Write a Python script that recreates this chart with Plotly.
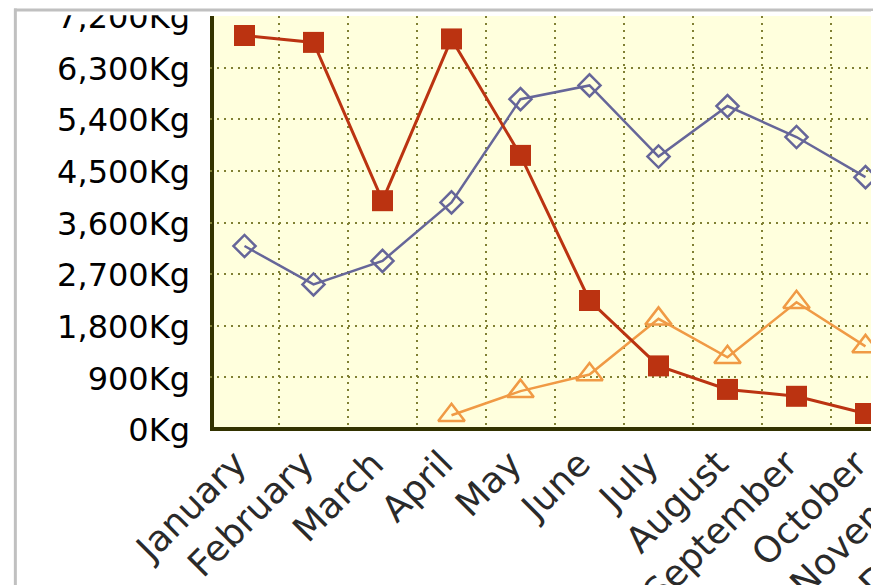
import plotly.graph_objects as go

# Monthly weights (Kg); only January-October are in view.
MONTHS = ["January", "February", "March", "April", "May", "June",
          "July", "August", "September", "October", "November", "December"]

RED_MONTHS = MONTHS[:10]
RED_KG = [6860, 6740, 3980, 6800, 4770, 2240, 1100, 690, 570, 270]

BLUE_MONTHS = MONTHS[:10]
BLUE_KG = [3190, 2520, 2930, 3950, 5750, 5990, 4750, 5630, 5090, 4390]

ORANGE_MONTHS = MONTHS[3:10]
ORANGE_KG = [240, 660, 950, 1920, 1250, 2210, 1440]

Y_MAX = 7200
Y_STEP = 900

FONT = "DejaVu Sans"
RED = "#bb3311"
BLUE = "#666699"
ORANGE = "#f09a45"
GRID = "#808033"
AXIS = "#333300"
BORDER = "#c0c0c0"

# figure sits in the page body (8px margin); plot area in figure pixels,
# the chart is shown cut off on the right by its window
W, H = 873, 577
L, R, T, B = 202, 863, 7.7, 420.6
X_RANGE = [-0.5, -0.5 + (R - L) / 69.0]


def x_frac(i):
    """Paper fraction of category index i on the x scale."""
    return (i - X_RANGE[0]) / (X_RANGE[1] - X_RANGE[0])


fig = go.Figure()
fig.add_trace(go.Scatter(
    x=BLUE_MONTHS, y=BLUE_KG, mode="lines+markers",
    line=dict(color=BLUE, width=2.5),
    marker=dict(symbol="diamond-open", size=17, color=BLUE, line=dict(width=2.5)),
))
fig.add_trace(go.Scatter(
    x=ORANGE_MONTHS, y=ORANGE_KG, mode="lines+markers",
    line=dict(color=ORANGE, width=2.5),
    marker=dict(symbol="triangle-up-open", size=23, color=ORANGE, line=dict(width=2.5)),
))
fig.add_trace(go.Scatter(
    x=RED_MONTHS, y=RED_KG, mode="lines+markers",
    line=dict(color=RED, width=3),
    marker=dict(symbol="square", size=21, color=RED, line=dict(width=0)),
))

fig.update_xaxes(
    type="category", categoryorder="array", categoryarray=MONTHS,
    range=X_RANGE, tickson="boundaries", ticks="", showticklabels=False,
    showgrid=True, gridcolor=GRID, gridwidth=2, griddash="2px,4.9px",
    showline=False, zeroline=False, automargin=False,
)
fig.update_yaxes(
    range=[0, Y_MAX], dtick=Y_STEP, tick0=0, tickformat=",d", ticksuffix="Kg",
    ticks="", showgrid=True, gridcolor=GRID, gridwidth=2, griddash="2px,4.9px",
    showline=False, zeroline=False, automargin=False,
    tickfont=dict(family=FONT, size=32, color="#000000"),
    ticklabelstandoff=19, ticklabelshift=1, ticklabeloverflow="allow",
)

# slanted month labels; the last ones run past the window edge
for i, month in enumerate(MONTHS):
    fig.add_annotation(
        x=x_frac(i), xref="paper", xshift=10, y=0, yref="paper", yshift=-12.4,
        text=month, showarrow=False, textangle=-45,
        xanchor="right", yanchor="top", borderpad=0,
        font=dict(family=FONT, size=36, color="#2a2a2a"),
    )

# window edge: white gap, then the grey frame (drawn over the cut labels)
fig.add_annotation(
    x=1, xref="paper", xanchor="left", y=1, yref="paper", yanchor="top",
    yshift=T - 3, text=" ", showarrow=False, width=6.7, height=H,
    bgcolor="white", borderpad=0, borderwidth=0,
)
fig.add_annotation(
    x=1, xref="paper", xanchor="left", xshift=6.7, y=1, yref="paper",
    yanchor="top", yshift=T, text=" ", showarrow=False, width=3.3, height=H,
    bgcolor=BORDER, borderpad=0, borderwidth=0,
)

shapes = [
    # axis lines
    dict(type="line", xref="paper", yref="paper", x0=0, x1=1, y0=0, y1=0,
         line=dict(color=AXIS, width=4), layer="between"),
    dict(type="line", xref="paper", yref="paper", xsizemode="pixel", xanchor=0,
         x0=2, x1=2, y0=0, y1=1, line=dict(color=AXIS, width=4), layer="between"),
    # frame cut at the top
    dict(type="rect", xref="paper", yref="paper", ysizemode="pixel", yanchor=1,
         x0=-1, x1=2, y0=0.7, y1=40, fillcolor="white", line=dict(width=0)),
    # grey window border
    dict(type="line", xref="paper", yref="paper", ysizemode="pixel", yanchor=1,
         xsizemode="pixel", xanchor=0, x0=-196, x1=680, y0=6.05, y1=6.05,
         line=dict(color=BORDER, width=3)),
    dict(type="line", xref="paper", yref="paper", ysizemode="pixel", yanchor=1,
         xsizemode="pixel", xanchor=0, x0=-194.65, x1=-194.65, y0=7.6, y1=-600,
         line=dict(color=BORDER, width=3)),
    dict(type="line", xref="paper", yref="paper", ysizemode="pixel", yanchor=1,
         xsizemode="pixel", xanchor=1, x0=8.35, x1=8.35, y0=7.6, y1=-600,
         line=dict(color=BORDER, width=3.3)),
]

fig.update_layout(
    width=W, height=H,
    margin=dict(l=L, r=W - R, t=T, b=H - B, pad=0),
    paper_bgcolor="white", plot_bgcolor="#ffffdd",
    showlegend=False, shapes=shapes,
)

fig.write_html("out.html")
